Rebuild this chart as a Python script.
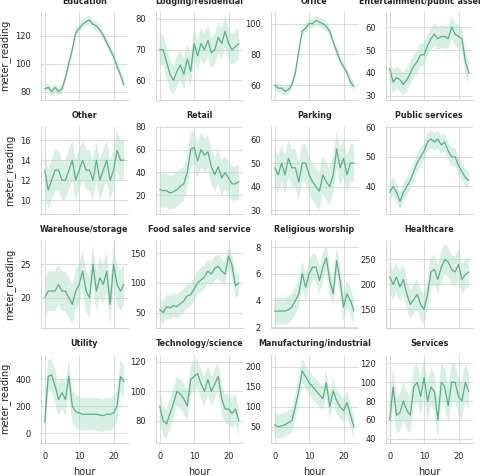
import numpy as np, pandas as pd, seaborn as sns, matplotlib.pyplot as plt

hours = list(range(24))
categories = ["Education","Lodging/residential","Office","Entertainment/public assembly",
              "Other","Retail","Parking","Public services",
              "Warehouse/storage","Food sales and service","Religious worship","Healthcare",
              "Utility","Technology/science","Manufacturing/industrial","Services"]
education = [82,83,80,83,80,82,90,100,110,122,125,128,130,131,128,127,124,120,115,110,105,98,92,85]
lodging = [70,70,66,62,60,63,65,62,67,63,72,68,72,70,73,69,70,74,72,76,72,70,71,72]
office = [60,58,58,56,57,60,68,82,95,97,100,100,102,101,100,98,95,88,82,76,72,68,62,59]
entertainment = [42,36,38,37,35,37,40,43,45,48,48,52,55,57,55,56,56,55,60,57,56,55,45,40]
other = [13,11,12,13,13,12,12,13,14,12,13,14,13,13,12,14,12,13,14,12,13,15,14,14]
retail = [25,24,24,22,23,25,28,30,40,60,62,50,60,55,58,45,38,45,35,40,35,30,30,32]
parking = [48,45,50,45,52,48,48,42,50,50,45,42,40,38,45,42,40,45,56,48,52,45,50,50]
public = [38,40,38,35,38,40,42,45,48,50,52,55,56,55,56,54,55,52,50,50,47,45,43,42]
warehouse = [20,21,21,21,22,21,21,20,19,21,22,24,21,20,25,21,23,22,24,19,25,22,21,22]
food = [55,50,60,58,62,60,65,70,78,80,90,100,105,110,120,115,125,128,120,115,145,130,95,100]
religious = [3.2,3.2,3.2,3.2,3.3,3.5,4,4.5,6,5,6,6.5,6.5,5.5,6.5,7.2,5.5,4.5,7,5.5,3.5,4.5,4,3.2]
healthcare = [215,200,215,195,210,180,160,170,180,160,150,180,225,230,210,235,250,245,230,225,240,210,220,225]
utility = [80,420,430,350,250,300,250,420,200,160,150,140,140,140,140,140,135,130,140,140,150,200,420,380]
tech = [90,80,78,85,92,100,98,95,90,108,110,112,105,100,108,100,105,110,95,88,88,85,88,80]
manuf = [55,50,52,55,60,65,100,140,190,175,160,150,140,130,120,160,100,140,115,100,90,110,80,50]
services = [60,95,65,68,80,70,65,95,100,85,105,80,95,90,60,100,95,75,100,100,85,80,100,90]
series = [education,lodging,office,entertainment,other,retail,parking,public,
          warehouse,food,religious,healthcare,utility,tech,manuf,services]
# half-width of the confidence band per category
band = [3,5,3,5,2,15,8,3,3,20,1,30,120,10,30,20]

rows = []
for cat, vals, b in zip(categories, series, band):
    for h, v in zip(hours, vals):
        for d in (-b, 0, b):
            rows.append((cat, h, v + d))
df = pd.DataFrame(rows, columns=["primary_space_usage", "hour", "meter_reading"])

sns.set_theme(style="whitegrid", rc={"grid.linewidth": 0.5, "axes.linewidth": 0.6,
                                     "axes.edgecolor": "#cccccc"})
g = sns.FacetGrid(df, col="primary_space_usage", col_wrap=4, col_order=categories,
                  sharey=False, height=1.19, aspect=1.008)
g.map_dataframe(sns.lineplot, x="hour", y="meter_reading", estimator="median",
                errorbar=("pi", 100), color="#5aae8a", linewidth=0.9)
g.set_titles("{col_name}", size=5.8, fontweight="bold")
for ax in g.axes.flat:
    ax.tick_params(labelsize=6, pad=1)
    ax.xaxis.label.set_size(7)
    ax.yaxis.label.set_size(7)
    ax.set_xticks([0, 10, 20])
    for coll in ax.collections:
        coll.set_facecolor("#a8dcc4")
        coll.set_edgecolor("none")
        coll.set_alpha(0.45)
g.fig.set_size_inches(4.8, 4.76)
g.fig.subplots_adjust(left=0.085, right=0.985, bottom=0.07, top=0.975, wspace=0.32, hspace=0.3)
g.fig.savefig("out.png", dpi=100)
